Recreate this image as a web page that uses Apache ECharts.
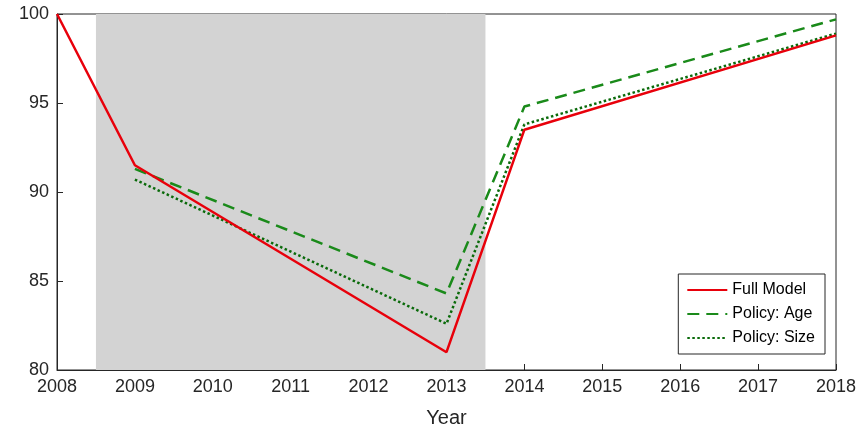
<!DOCTYPE html>
<html>
<head>
<meta charset="UTF-8"/>
<script src="https://cdn.jsdelivr.net/npm/echarts@6/dist/echarts.min.js"></script>
<style>body{margin:0;background:#fff}#main{width:865px;height:440px}</style>
</head>
<body>
<div id="main"></div>
<script>
var years = [2008, 2009, 2013, 2014, 2018];
var fullModel = [100, 91.5, 81.0, 93.5, 98.8];
var policyAge = [null, 91.3, 84.3, 94.8, 99.7];
var policySize = [null, 90.7, 82.6, 93.8, 98.9];
var shadeRange = [2008.5, 2013.5];

function pairs(vals) {
    var out = [];
    for (var i = 0; i < years.length; i++) {
        if (vals[i] != null) out.push([years[i], vals[i]]);
    }
    return out;
}

var font = 'Liberation Sans';
var myChart = echarts.init(document.getElementById('main'));
var option = {
    animation: false,
    textStyle: {fontFamily: font},
    grid: {left: 57, right: 29, top: 14, bottom: 70, show: true, borderColor: '#262626', borderWidth: 1},
    legend: {
        orient: 'vertical', right: 40, bottom: 86,
        backgroundColor: '#fff', borderColor: '#262626', borderWidth: 1,
        padding: [8, 10, 8, 8], itemGap: 8, itemWidth: 40, itemHeight: 14,
        itemStyle: {opacity: 0},
        textStyle: {fontSize: 16, color: '#000', fontFamily: font},
        data: ['Full Model', 'Policy: Age', 'Policy: Size']
    },
    xAxis: {
        type: 'value', min: 2008, max: 2018, interval: 1,
        name: 'Year', nameLocation: 'middle', nameGap: 38,
        nameTextStyle: {fontSize: 20, color: '#262626'},
        axisLabel: {fontSize: 18, color: '#262626', formatter: function (v) { return String(v); }},
        axisLine: {lineStyle: {color: '#262626'}},
        axisTick: {inside: true, length: 6},
        splitLine: {show: false}
    },
    yAxis: {
        type: 'value', min: 80, max: 100, interval: 5,
        axisLabel: {fontSize: 18, color: '#262626'},
        axisLine: {show: true, lineStyle: {color: '#262626'}},
        axisTick: {show: true, inside: true, length: 6},
        splitLine: {show: false}
    },
    series: [
        {
            name: 'Full Model', type: 'line', data: pairs(fullModel), symbol: 'none', z: 3,
            lineStyle: {color: '#e8000b', width: 2.5}, itemStyle: {color: '#e8000b'},
            markArea: {silent: true, itemStyle: {color: '#d3d3d3'}, data: [[{xAxis: shadeRange[0]}, {xAxis: shadeRange[1]}]]}
        },
        {
            name: 'Policy: Age', type: 'line', data: pairs(policyAge), symbol: 'none', z: 2,
            lineStyle: {color: '#1a8a1a', width: 2.5, type: [12, 7]}, itemStyle: {color: '#1a8a1a'}
        },
        {
            name: 'Policy: Size', type: 'line', data: pairs(policySize), symbol: 'none', z: 2,
            lineStyle: {color: '#0a6a0a', width: 2.5, type: [2.5, 2.5]}, itemStyle: {color: '#0a6a0a'}
        }
    ]
};
myChart.setOption(option);
</script>
</body>
</html>
